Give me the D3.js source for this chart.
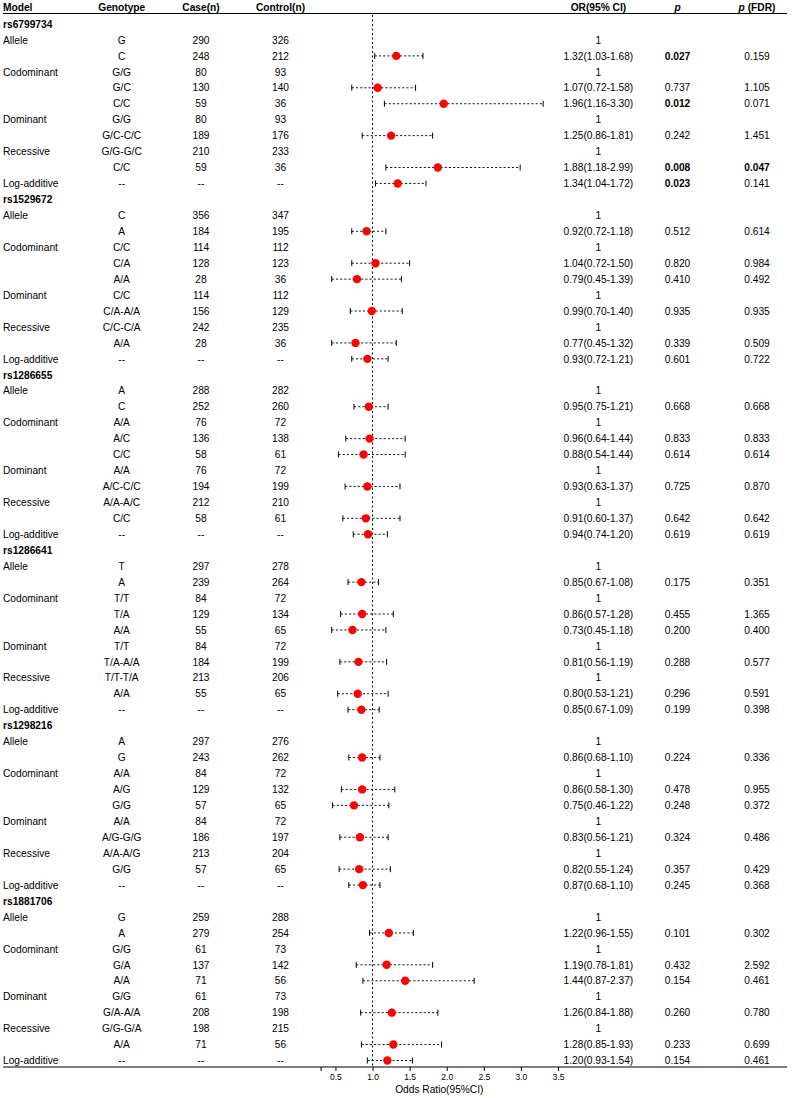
<!DOCTYPE html>
<html>
<head>
<meta charset="utf-8">
<script src="https://cdn.jsdelivr.net/npm/d3@7"></script>
<style>
  html, body { margin: 0; padding: 0; background: #fff; }
  svg { display: block; }
  text { font-family: "Liberation Sans", Arial, sans-serif; fill: #000; }
</style>
</head>
<body>
<svg id="chart" width="800" height="1098"></svg>
<script>
// ---------------- DATA ----------------
const snps = ["rs6799734", "rs1529672", "rs1286655", "rs1286641", "rs1298216", "rs1881706"];
const modelLabels = ["Allele", "", "Codominant", "", "", "Dominant", "", "Recessive", "", "Log-additive"];
const genotypes = [
  ["G", "C", "G/G", "G/C", "C/C", "G/G", "G/C-C/C", "G/G-G/C", "C/C", "--"],
  ["C", "A", "C/C", "C/A", "A/A", "C/C", "C/A-A/A", "C/C-C/A", "A/A", "--"],
  ["A", "C", "A/A", "A/C", "C/C", "A/A", "A/C-C/C", "A/A-A/C", "C/C", "--"],
  ["T", "A", "T/T", "T/A", "A/A", "T/T", "T/A-A/A", "T/T-T/A", "A/A", "--"],
  ["A", "G", "A/A", "A/G", "G/G", "A/A", "A/G-G/G", "A/A-A/G", "G/G", "--"],
  ["G", "A", "G/G", "G/A", "A/A", "G/G", "G/A-A/A", "G/G-G/A", "A/A", "--"]
];
const cases = [
  [290, 248, 80, 130, 59, 80, 189, 210, 59, "--"],
  [356, 184, 114, 128, 28, 114, 156, 242, 28, "--"],
  [288, 252, 76, 136, 58, 76, 194, 212, 58, "--"],
  [297, 239, 84, 129, 55, 84, 184, 213, 55, "--"],
  [297, 243, 84, 129, 57, 84, 186, 213, 57, "--"],
  [259, 279, 61, 137, 71, 61, 208, 198, 71, "--"]
];
const controls = [
  [326, 212, 93, 140, 36, 93, 176, 233, 36, "--"],
  [347, 195, 112, 123, 36, 112, 129, 235, 36, "--"],
  [282, 260, 72, 138, 61, 72, 199, 210, 61, "--"],
  [278, 264, 72, 134, 65, 72, 199, 206, 65, "--"],
  [276, 262, 72, 132, 65, 72, 197, 204, 65, "--"],
  [288, 254, 73, 142, 56, 73, 198, 215, 56, "--"]
];
// null = reference category (OR shown as "1")
const oddsRatios = [
  [null, 1.32, null, 1.07, 1.96, null, 1.25, null, 1.88, 1.34],
  [null, 0.92, null, 1.04, 0.79, null, 0.99, null, 0.77, 0.93],
  [null, 0.95, null, 0.96, 0.88, null, 0.93, null, 0.91, 0.94],
  [null, 0.85, null, 0.86, 0.73, null, 0.81, null, 0.80, 0.85],
  [null, 0.86, null, 0.86, 0.75, null, 0.83, null, 0.82, 0.87],
  [null, 1.22, null, 1.19, 1.44, null, 1.26, null, 1.28, 1.20]
];
const ciLower = [
  [null, 1.03, null, 0.72, 1.16, null, 0.86, null, 1.18, 1.04],
  [null, 0.72, null, 0.72, 0.45, null, 0.70, null, 0.45, 0.72],
  [null, 0.75, null, 0.64, 0.54, null, 0.63, null, 0.60, 0.74],
  [null, 0.67, null, 0.57, 0.45, null, 0.56, null, 0.53, 0.67],
  [null, 0.68, null, 0.58, 0.46, null, 0.56, null, 0.55, 0.68],
  [null, 0.96, null, 0.78, 0.87, null, 0.84, null, 0.85, 0.93]
];
const ciUpper = [
  [null, 1.68, null, 1.58, 3.30, null, 1.81, null, 2.99, 1.72],
  [null, 1.18, null, 1.50, 1.39, null, 1.40, null, 1.32, 1.21],
  [null, 1.21, null, 1.44, 1.44, null, 1.37, null, 1.37, 1.20],
  [null, 1.08, null, 1.28, 1.18, null, 1.19, null, 1.21, 1.09],
  [null, 1.10, null, 1.30, 1.22, null, 1.21, null, 1.24, 1.10],
  [null, 1.55, null, 1.81, 2.37, null, 1.88, null, 1.93, 1.54]
];
const pValues = [
  ["", "0.027", "", "0.737", "0.012", "", "0.242", "", "0.008", "0.023"],
  ["", "0.512", "", "0.820", "0.410", "", "0.935", "", "0.339", "0.601"],
  ["", "0.668", "", "0.833", "0.614", "", "0.725", "", "0.642", "0.619"],
  ["", "0.175", "", "0.455", "0.200", "", "0.288", "", "0.296", "0.199"],
  ["", "0.224", "", "0.478", "0.248", "", "0.324", "", "0.357", "0.245"],
  ["", "0.101", "", "0.432", "0.154", "", "0.260", "", "0.233", "0.154"]
];
const fdrValues = [
  ["", "0.159", "", "1.105", "0.071", "", "1.451", "", "0.047", "0.141"],
  ["", "0.614", "", "0.984", "0.492", "", "0.935", "", "0.509", "0.722"],
  ["", "0.668", "", "0.833", "0.614", "", "0.870", "", "0.642", "0.619"],
  ["", "0.351", "", "1.365", "0.400", "", "0.577", "", "0.591", "0.398"],
  ["", "0.336", "", "0.955", "0.372", "", "0.486", "", "0.429", "0.368"],
  ["", "0.302", "", "2.592", "0.461", "", "0.780", "", "0.699", "0.461"]
];
const axisTicks = [0.3, 0.5, 1.0, 1.5, 2.0, 2.5, 3.0, 3.5];
const axisTickLabels = ["", "0.5", "1.0", "1.5", "2.0", "2.5", "3.0", "3.5"];

// ---------------- BUILD ROWS ----------------
const rows = [];
snps.forEach((snp, s) => {
  rows.push({ header: true, label: snp });
  modelLabels.forEach((m, j) => {
    rows.push({
      header: false,
      model: m,
      genotype: genotypes[s][j],
      caseN: cases[s][j],
      controlN: controls[s][j],
      or: oddsRatios[s][j],
      lo: ciLower[s][j],
      hi: ciUpper[s][j],
      p: pValues[s][j],
      fdr: fdrValues[s][j]
    });
  });
});
rows.forEach((r, i) => r.index = i);

// ---------------- LAYOUT ----------------
const svg = d3.select("#chart");
const FS = 10.2;
const y = d3.scaleLinear().domain([0, rows.length - 1]).range([24, 1060.5]);
const x = d3.scaleLinear().domain([0.3, 3.5]).range([320.6, 558]);
const col = { model: 3, genotype: 121.7, caseN: 201, control: 280.5, or: 598.4, p: 677.5, fdr: 757 };
const lineLeft = 3, lineRight = 787, headerLineY = 13.5, axisY = 1067;

// header
const hdr = svg.append("g").attr("font-size", FS).attr("font-weight", "bold");
hdr.append("text").attr("x", col.model).attr("y", 10.5).text("Model");
[["Genotype", col.genotype], ["Case(n)", col.caseN], ["Control(n)", col.control], ["OR(95% CI)", col.or]]
  .forEach(([t, cx]) => hdr.append("text").attr("x", cx).attr("y", 10.5).attr("text-anchor", "middle").text(t));
hdr.append("text").attr("x", col.p).attr("y", 10.5).attr("text-anchor", "middle").attr("font-style", "italic").text("p");
const fdrHdr = hdr.append("text").attr("x", col.fdr).attr("y", 10.5).attr("text-anchor", "middle");
fdrHdr.append("tspan").attr("font-style", "italic").text("p");
fdrHdr.append("tspan").text(" (FDR)");

svg.append("line").attr("x1", lineLeft).attr("x2", lineRight)
  .attr("y1", headerLineY).attr("y2", headerLineY)
  .attr("stroke", "#000").attr("stroke-width", 1.2);

// reference line at OR = 1
svg.append("line").attr("x1", x(1)).attr("x2", x(1))
  .attr("y1", headerLineY + 1.5).attr("y2", axisY)
  .attr("stroke", "#000").attr("stroke-width", 1)
  .attr("stroke-dasharray", "2,2.5");

// table text
const body = svg.append("g").attr("font-size", FS);
const rowG = body.selectAll("g.row").data(rows).join("g")
  .attr("class", "row")
  .attr("transform", d => `translate(0,${y(d.index)})`);

rowG.filter(d => d.header).append("text")
  .attr("x", col.model).attr("dy", "0.36em").attr("font-weight", "bold")
  .text(d => d.label);

const dr = rowG.filter(d => !d.header);
dr.append("text").attr("x", col.model).attr("dy", "0.36em").text(d => d.model);
dr.append("text").attr("x", col.genotype).attr("dy", "0.36em").attr("text-anchor", "middle").text(d => d.genotype);
dr.append("text").attr("x", col.caseN).attr("dy", "0.36em").attr("text-anchor", "middle").text(d => d.caseN);
dr.append("text").attr("x", col.control).attr("dy", "0.36em").attr("text-anchor", "middle").text(d => d.controlN);
const f2 = d3.format(".2f");
dr.append("text").attr("x", col.or).attr("dy", "0.36em").attr("text-anchor", "middle")
  .text(d => d.or == null ? "1" : `${f2(d.or)}(${f2(d.lo)}-${f2(d.hi)})`);
dr.append("text").attr("x", col.p).attr("dy", "0.36em").attr("text-anchor", "middle")
  .attr("font-weight", d => d.p !== "" && +d.p < 0.05 ? "bold" : "normal")
  .text(d => d.p);
dr.append("text").attr("x", col.fdr).attr("dy", "0.36em").attr("text-anchor", "middle")
  .attr("font-weight", d => d.fdr !== "" && +d.fdr < 0.05 ? "bold" : "normal")
  .text(d => d.fdr);

// CI whiskers and points
const est = dr.filter(d => d.or != null);
est.append("line")
  .attr("x1", d => x(d.lo)).attr("x2", d => x(d.hi))
  .attr("y1", 0).attr("y2", 0)
  .attr("stroke", "#000").attr("stroke-width", 0.9)
  .attr("stroke-dasharray", "2.2,2");
est.append("line")
  .attr("x1", d => x(d.lo)).attr("x2", d => x(d.lo))
  .attr("y1", -3).attr("y2", 3)
  .attr("stroke", "#000").attr("stroke-width", 1);
est.append("line")
  .attr("x1", d => x(d.hi)).attr("x2", d => x(d.hi))
  .attr("y1", -3).attr("y2", 3)
  .attr("stroke", "#000").attr("stroke-width", 1);
est.append("circle")
  .attr("cx", d => x(d.or)).attr("cy", 0).attr("r", 4.2)
  .attr("fill", "#ff0000");

// bottom axis
svg.append("line").attr("x1", lineLeft).attr("x2", lineRight)
  .attr("y1", axisY).attr("y2", axisY)
  .attr("stroke", "#000").attr("stroke-width", 1.2);

const axis = d3.axisBottom(x)
  .tickValues(axisTicks)
  .tickFormat((d, i) => axisTickLabels[i])
  .tickSize(4)
  .tickSizeOuter(0);
const ax = svg.append("g").attr("transform", `translate(0,${axisY})`).call(axis);
ax.select(".domain").remove();
ax.selectAll(".tick line").attr("stroke", "#000").attr("stroke-width", 1);
ax.selectAll(".tick text")
  .attr("font-family", "'Liberation Sans', Arial, sans-serif")
  .attr("font-size", 8.5).attr("fill", "#000").attr("y", 7);

svg.append("text")
  .attr("x", (x.range()[0] + x.range()[1]) / 2).attr("y", 1093)
  .attr("text-anchor", "middle").attr("font-size", FS)
  .text("Odds Ratio(95%CI)");
</script>
</body>
</html>
